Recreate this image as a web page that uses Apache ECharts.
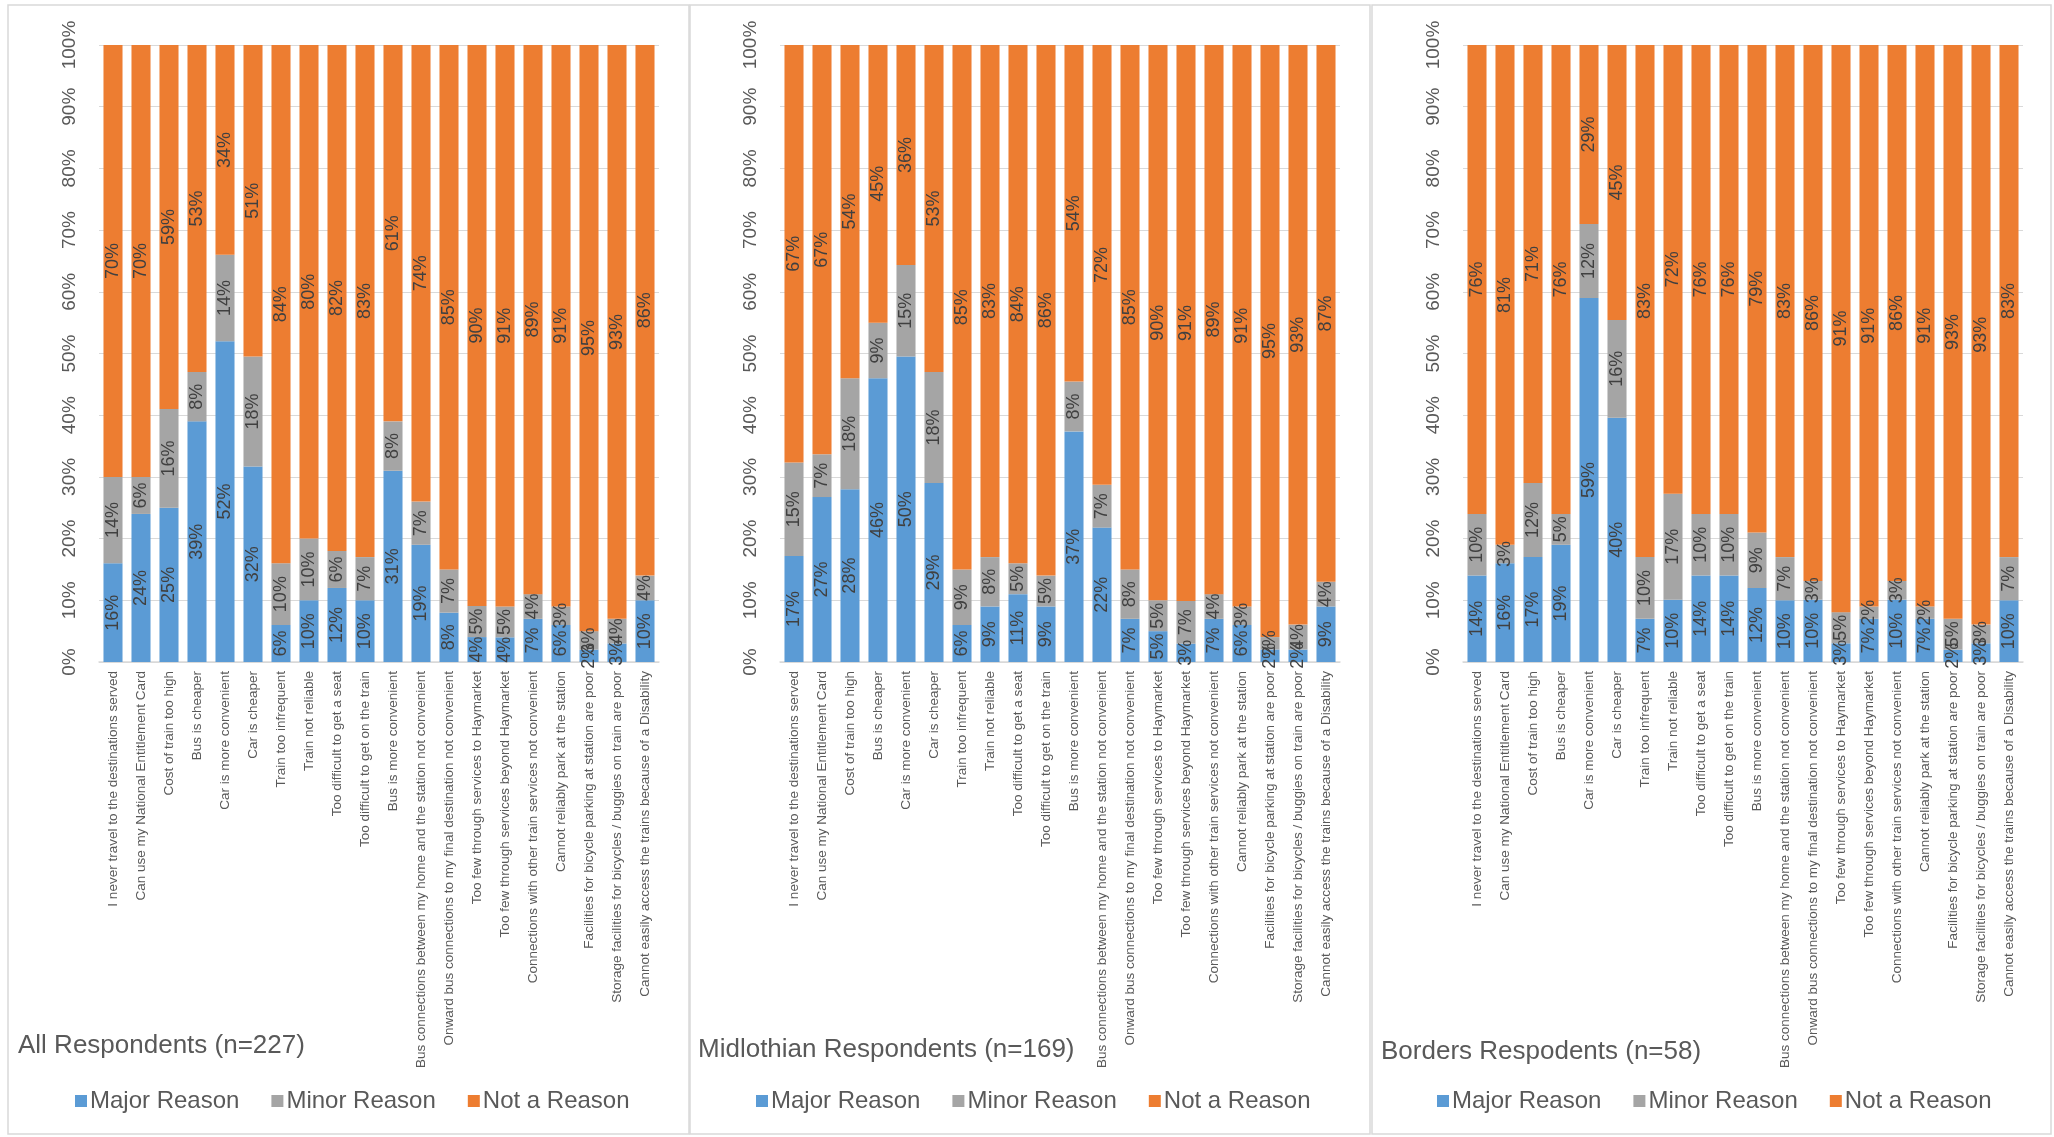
<!DOCTYPE html>
<html>
<head>
<meta charset="utf-8">
<script src="https://cdn.jsdelivr.net/npm/echarts@6/dist/echarts.min.js"></script>
<style>
html,body{margin:0;padding:0;background:#fff;}
#c{width:2054px;height:1137px;}
</style>
</head>
<body>
<div id="c"></div>
<script>
const categories = [
  "I never travel to the destinations served",
  "Can use my National Entitlement Card",
  "Cost of train too high",
  "Bus is cheaper",
  "Car is more convenient",
  "Car is cheaper",
  "Train too infrequent",
  "Train not reliable",
  "Too difficult to get a seat",
  "Too difficult to get on the train",
  "Bus is more convenient",
  "Bus connections between my home and the station not convenient",
  "Onward bus connections to my final destination not convenient",
  "Too few through services to Haymarket",
  "Too few through services beyond Haymarket",
  "Connections with other train services not convenient",
  "Cannot reliably park at the station",
  "Facilities for bicycle parking at station are poor",
  "Storage facilities for bicycles / buggies on train are poor",
  "Cannot easily access the trains because of a Disability"
];
const seriesNames = ["Major Reason", "Minor Reason", "Not a Reason"];
const panelTitles = ["All Respondents (n=227)", "Midlothian Respondents (n=169)", "Borders Respodents (n=58)"];
const yTicks = [0, 10, 20, 30, 40, 50, 60, 70, 80, 90, 100];

// All respondents
const allMajor = [16,24,25,39,52,32,6,10,12,10,31,19,8,4,4,7,6,2,3,10];
const allMinor = [14,6,16,8,14,18,10,10,6,7,8,7,7,5,5,4,3,3,4,4];
const allNot   = [70,70,59,53,34,51,84,80,82,83,61,74,85,90,91,89,91,95,93,86];
// Midlothian respondents
const midMajor = [17,27,28,46,50,29,6,9,11,9,37,22,7,5,3,7,6,2,2,9];
const midMinor = [15,7,18,9,15,18,9,8,5,5,8,7,8,5,7,4,3,2,4,4];
const midNot   = [67,67,54,45,36,53,85,83,84,86,54,72,85,90,91,89,91,95,93,87];
// Borders respondents
const bordMajor = [14,16,17,19,59,40,7,10,14,14,12,10,10,3,7,10,7,2,3,10];
const bordMinor = [10,3,12,5,12,16,10,17,10,10,9,7,3,5,2,3,2,5,3,7];
const bordNot   = [76,81,71,76,29,45,83,72,76,76,79,83,86,91,91,86,91,93,93,83];

const panels = [
  [allMajor, allMinor, allNot],
  [midMajor, midMinor, midNot],
  [bordMajor, bordMinor, bordNot]
];
const colors = ["#5B9BD5", "#A5A5A5", "#ED7D31"];
const FONT = "'Liberation Sans', Arial, sans-serif";

const gridLefts = [99, 780, 1463];
const titleLefts = [18, 698, 1381];
const titleTops = [1033, 1037, 1039];
const legendLefts = [75, 756, 1437];

const grids = [], xAxes = [], yAxes = [], series = [], titles = [], legends = [];
panels.forEach((p, gi) => {
  grids.push({left: gridLefts[gi], width: 560, top: 45, height: 617});
  xAxes.push({
    type: 'category', gridIndex: gi, data: categories,
    axisLine: {lineStyle: {color: '#D9D9D9', width: 1.5}},
    axisTick: {show: false},
    axisLabel: {rotate: 90, interval: 0, margin: 9, fontSize: 13.5, color: '#595959', fontFamily: FONT}
  });
  yAxes.push({
    type: 'value', gridIndex: gi, min: 0, max: 100, interval: 10,
    axisLine: {show: false}, axisTick: {show: false},
    splitLine: {lineStyle: {color: '#D9D9D9', width: 1.2}},
    axisLabel: {rotate: 90, margin: 20, fontSize: 19, color: '#595959', fontFamily: FONT,
      formatter: v => yTicks.includes(v) ? v + '%' : ''}
  });
  const totals = categories.map((c, i) => p[0][i] + p[1][i] + p[2][i]);
  p.forEach((vals, si) => {
    series.push({
      name: seriesNames[si], type: 'bar', stack: 'g' + gi,
      xAxisIndex: gi, yAxisIndex: gi,
      barCategoryGap: '32%',
      itemStyle: {color: colors[si]},
      data: vals.map((v, i) => ({value: v / totals[i] * 100, raw: v})),
      label: {
        show: true, position: 'inside', rotate: 90,
        fontSize: 18, color: '#404040', fontFamily: FONT,
        formatter: prm => prm.data.raw + '%'
      },
      emphasis: {disabled: true}
    });
  });
  titles.push({
    text: panelTitles[gi], left: titleLefts[gi], top: titleTops[gi], padding: 0,
    textStyle: {fontSize: 26, fontWeight: 'normal', color: '#595959', fontFamily: FONT}
  });
  legends.push({
    data: seriesNames, left: legendLefts[gi], top: 1089, padding: 0,
    icon: 'rect', itemWidth: 12, itemHeight: 12, itemGap: 32,
    textStyle: {fontSize: 24, color: '#595959', fontFamily: FONT, padding: [0, 0, 0, -2]}
  });
});

const chart = echarts.init(document.getElementById('c'), null, {renderer: 'canvas'});
chart.setOption({
  animation: false,
  backgroundColor: '#ffffff',
  title: titles,
  legend: legends,
  grid: grids,
  xAxis: xAxes,
  yAxis: yAxes,
  series: series,
  graphic: [
    {type: 'rect', shape: {x: 8, y: 5, width: 681, height: 1129}, style: {fill: 'none', stroke: '#D9D9D9', lineWidth: 1.5}, silent: true, z: -10},
    {type: 'rect', shape: {x: 690, y: 5, width: 680, height: 1129}, style: {fill: 'none', stroke: '#D9D9D9', lineWidth: 1.5}, silent: true, z: -10},
    {type: 'rect', shape: {x: 1372, y: 5, width: 679, height: 1129}, style: {fill: 'none', stroke: '#D9D9D9', lineWidth: 1.5}, silent: true, z: -10}
  ]
});
</script>
</body>
</html>
